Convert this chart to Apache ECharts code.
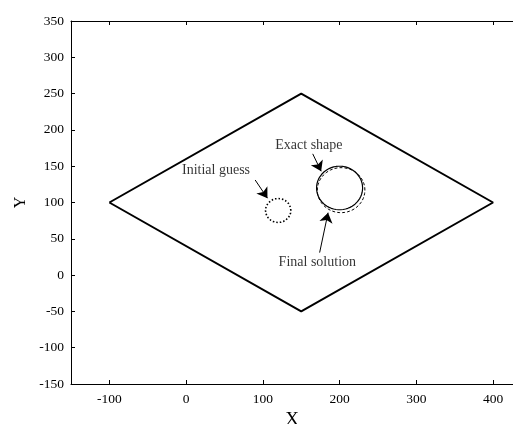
<!DOCTYPE html>
<html><head><meta charset="utf-8">
<script src="https://cdn.jsdelivr.net/npm/echarts@6/dist/echarts.min.js"></script>
<style>html,body{margin:0;padding:0;background:#fff}#c{width:513px;height:424px}</style>
</head><body><div id="c"></div>
<script>
// Domain outline (diamond)
const domainX = [-100, 150, 400, 150, -100];
const domainY = [100, 250, 100, -50, 100];
// Circles: [cx, cy, r]
const exactShape = [200, 120, 30];
const finalSolution = [202, 117, 31];
const initialGuess = [120, 89, 16.5];
// Annotations
const labels = ['Initial guess', 'Exact shape', 'Final solution'];
const labelPos = [[39, 145], [160, 179], [171, 18]];
const arrowFrom = [[90, 131], [165, 167], [174, 31]];
const arrowTo = [[106, 106], [176, 143], [185, 86]];
const xTicks = [-100, 0, 100, 200, 300, 400];
const yTicks = [-150, -100, -50, 0, 50, 100, 150, 200, 250, 300, 350];

function circle(c) {
  const pts = [];
  for (let i = 0; i <= 120; i++) {
    const a = i / 120 * 2 * Math.PI;
    pts.push([c[0] + c[2] * Math.cos(a), c[1] + c[2] * Math.sin(a)]);
  }
  return pts;
}
const font = 'Liberation Serif';
const chart = echarts.init(document.getElementById('c'));
const tick = {show: true, inside: true, length: 4, lineStyle: {color: '#000'}};
const line = {show: true, onZero: false, lineStyle: {color: '#000', width: 1}};
chart.setOption({
  animation: false,
  grid: {left: 71, top: 21, right: 0, bottom: 40, show: false, outerBoundsMode: 'none', containLabel: false},
  xAxis: [
    {type: 'value', min: -150, max: 426, position: 'bottom',
      name: 'X', nameLocation: 'middle', nameGap: 18,
      nameTextStyle: {fontFamily: font, fontSize: 19, color: '#000'},
      axisLine: line, splitLine: {show: false},
      axisTick: Object.assign({customValues: xTicks}, tick),
      axisLabel: {fontFamily: font, fontSize: 13.5, color: '#000', margin: 8, customValues: xTicks}},
    {type: 'value', min: -150, max: 426, position: 'top',
      axisLine: line, splitLine: {show: false},
      axisTick: Object.assign({customValues: xTicks}, tick),
      axisLabel: {show: false}}
  ],
  yAxis: [
    {type: 'value', min: -150, max: 350, position: 'left',
      name: 'Y', nameLocation: 'middle', nameGap: 39, nameRotate: 90,
      nameTextStyle: {fontFamily: font, fontSize: 16, color: '#000'},
      axisLine: line, splitLine: {show: false},
      axisTick: Object.assign({customValues: yTicks}, tick),
      axisLabel: {fontFamily: font, fontSize: 13.5, color: '#000', margin: 7, customValues: yTicks}}
  ],
  series: [
    {type: 'line', data: domainX.map((x, i) => [x, domainY[i]]), symbol: 'none',
      lineStyle: {color: '#000', width: 2}},
    {type: 'line', data: circle(exactShape), symbol: 'none',
      lineStyle: {color: '#000', width: 1.2}},
    {type: 'line', data: circle(finalSolution), symbol: 'none',
      lineStyle: {color: '#000', width: 1, type: [3, 2]}},
    {type: 'line', data: circle(initialGuess), symbol: 'none',
      lineStyle: {color: '#000', width: 1.6, type: [1.5, 2]}},
    {type: 'lines', coordinateSystem: 'cartesian2d', symbol: ['none', 'arrow'], symbolSize: [6, 10],
      lineStyle: {color: '#000', width: 1, opacity: 1},
      data: arrowFrom.map((f, i) => ({coords: [f, arrowTo[i]]}))},
    {type: 'scatter', symbolSize: 0, data: labelPos.map((p, i) => ({value: p, name: labels[i]})),
      label: {show: true, position: 'inside', formatter: p => p.name,
        fontFamily: font, fontSize: 14, color: '#000'}}
  ]
});
</script></body></html>
